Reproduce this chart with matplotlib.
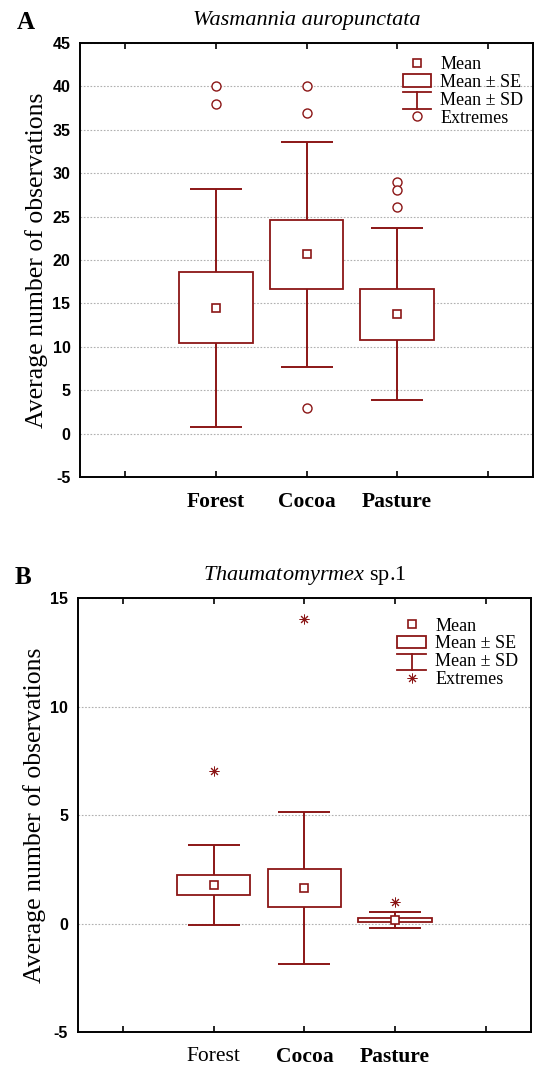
import numpy as np
import matplotlib
matplotlib.use('Agg')
import matplotlib.pyplot as plt
from matplotlib.lines import Line2D
from matplotlib.patches import Rectangle
from matplotlib.legend_handler import HandlerBase

plt.rcParams['axes.unicode_minus'] = False
plt.rcParams['mathtext.fontset'] = 'custom'
plt.rcParams['mathtext.rm'] = 'Liberation Serif'
plt.rcParams['mathtext.it'] = 'Liberation Serif:italic'

red = '#8b1616'
serif = 'Liberation Serif'
sans = 'Liberation Sans'

habitats = ['Forest', 'Cocoa', 'Pasture']

# panel A: Wasmannia auropunctata
mean_a = [14.5, 20.65, 13.75]
se_a = [4.1, 3.95, 2.95]
sd_a = [13.7, 13.0, 9.9]
extremes_a = [[40, 38], [40, 37, 3], [29, 28.1, 26.1]]

# panel B: Thaumatomyrmex sp.1
mean_b = [1.77, 1.62, 0.16]
se_b = [0.475, 0.88, 0.105]
sd_b = [1.84, 3.5, 0.35]
extremes_b = [[7.05], [14.05], [0.97]]


class HandlerSD(HandlerBase):
    def create_artists(self, legend, orig_handle, xd, yd, width, height, fontsize, trans):
        top = yd + height * 1.0
        bot = yd - height * 0.3
        mid = xd + width / 2
        l1 = Line2D([xd, xd + width], [top, top], color=red, lw=1.3, transform=trans)
        l2 = Line2D([mid, mid], [bot, top], color=red, lw=1.3, transform=trans)
        l3 = Line2D([xd, xd + width], [bot, bot], color=red, lw=1.3, transform=trans)
        return [l1, l2, l3]


def draw_panel(ax, mean, se, sd, extremes, ylim, ext_marker, ext_size, ext_mew,
               title, letter, xweights, leg_anchor):
    x = np.arange(1, len(habitats) + 1)
    mean = np.array(mean)
    se = np.array(se)
    sd = np.array(sd)
    ax.errorbar(x, mean, yerr=sd, fmt='none', ecolor=red, elinewidth=1.4,
                capsize=18.7, capthick=1.4, zorder=2)
    ax.bar(x, 2 * se, bottom=mean - se, width=0.81, color='white',
           edgecolor=red, linewidth=1.3, zorder=3)
    ax.plot(x, mean, 's', ms=6, mfc='white', mec=red, mew=1.2, zorder=4)
    for xi, ev in zip(x, extremes):
        ax.plot([xi] * len(ev), ev, linestyle='none', marker=ext_marker,
                ms=ext_size, mfc='white', mec=red, mew=ext_mew, zorder=4)

    ax.set_xlim(-0.5, 4.5)
    ax.set_ylim(*ylim)
    ax.set_yticks(np.arange(ylim[0], ylim[1] + 1, 5))
    ax.set_xticks(np.arange(0, 5))
    ax.set_xticklabels([''] + habitats + [''])
    for lab, w in zip(ax.get_xticklabels()[1:4], xweights):
        lab.set_fontfamily(serif)
        lab.set_fontsize(15.5)
        lab.set_fontweight(w)
    for lab in ax.get_yticklabels():
        lab.set_fontfamily(sans)
        lab.set_fontweight('bold')
        lab.set_fontsize(11.5)
    ax.tick_params(axis='x', direction='in', length=4, width=1.2, top=True, pad=11)
    ax.tick_params(axis='y', length=0, pad=7)
    ax.grid(axis='y', linestyle=(0, (1.5, 1.5)), color='#b0b0b0', linewidth=0.8)
    ax.set_axisbelow(True)
    for s in ax.spines.values():
        s.set_linewidth(1.4)
    ax.set_ylabel('Average number of observations', fontfamily=serif, fontsize=18.5, labelpad=3)
    ax.set_title(title, fontfamily=serif, fontsize=16, pad=13)
    ax.text(-0.14, 1.02, letter, transform=ax.transAxes, fontfamily=serif,
            fontsize=18, fontweight='bold', va='bottom', ha='left')

    h_mean = Line2D([], [], marker='s', ls='none', ms=6, mfc='white', mec=red, mew=1.2)
    h_se = Rectangle((0, 0), 1, 1, facecolor='white', edgecolor=red, linewidth=1.3)
    h_sd = Line2D([], [])
    h_ext = Line2D([], [], marker=ext_marker, ls='none', ms=ext_size, mfc='white',
                   mec=red, mew=ext_mew)
    leg = ax.legend([h_mean, h_se, h_sd, h_ext], ['Mean', 'Mean ± SE', 'Mean ± SD', 'Extremes'],
                    handler_map={h_sd: HandlerSD()}, loc='upper left',
                    bbox_to_anchor=leg_anchor, frameon=False, borderpad=0,
                    borderaxespad=0, handlelength=1.6, handletextpad=0.5,
                    labelspacing=0.05, prop={'family': serif, 'size': 13})
    return leg


fig = plt.figure(figsize=(5.34, 10.66), dpi=100)
ax_a = fig.add_axes([0.150, 0.5525, 0.848, 0.4071])
ax_b = fig.add_axes([0.146, 0.0319, 0.848, 0.4071])

draw_panel(ax_a, mean_a, se_a, sd_a, extremes_a, (-5, 45), 'o', 6.5, 1.0,
           'Wasmannia auropunctata', 'A', ['bold', 'bold', 'bold'], (0.712, 0.97))
ax_a.title.set_fontstyle('italic')
draw_panel(ax_b, mean_b, se_b, sd_b, extremes_b, (-5, 15), (8, 2, 0), 7, 0.7,
           '$\\mathit{Thaumatomyrmex}$ sp.1', 'B', ['normal', 'bold', 'bold'], (0.705, 0.955))

fig.savefig('out.png', dpi=100)
